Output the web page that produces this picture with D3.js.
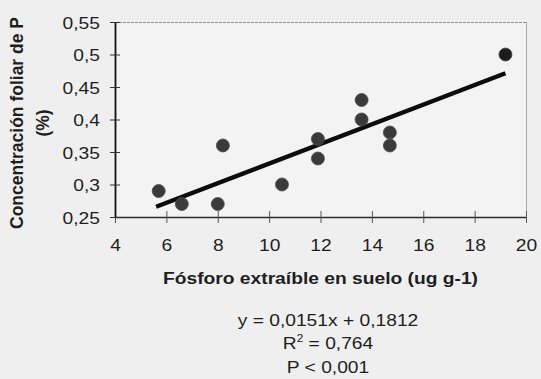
<!DOCTYPE html>
<html>
<head>
<meta charset="utf-8">
<script src="https://cdn.jsdelivr.net/npm/d3@7/dist/d3.min.js"></script>
<style>
  html, body { margin: 0; padding: 0; background: #efefef; }
  svg { display: block; }
  text { font-family: "Liberation Sans", Arial, sans-serif; fill: #1e1e1e; }
</style>
</head>
<body>
<svg id="chart" width="541" height="379"></svg>
<script>
// ---- data ----
const phosphorusSoil = [5.7, 6.6, 8.0, 8.2, 10.5, 11.9, 11.9, 13.6, 13.6, 14.7, 14.7, 19.2];
const foliarP        = [0.29, 0.27, 0.27, 0.36, 0.30, 0.37, 0.34, 0.43, 0.40, 0.38, 0.36, 0.50];
const xTicks = [4, 6, 8, 10, 12, 14, 16, 18, 20];
const yTicks = [0.25, 0.30, 0.35, 0.40, 0.45, 0.50, 0.55];
const yTickLabels = ["0,25", "0,3", "0,35", "0,4", "0,45", "0,5", "0,55"];
const trend = { slope: 0.0151, intercept: 0.1812 };
const xTitle = "Fósforo extraíble en suelo (ug g-1)";
const yTitle1 = "Concentración foliar de P";
const yTitle2 = "(%)";
const eqLines = ["y = 0,0151x + 0,1812", "R2 = 0,764", "P < 0,001"];

// ---- layout ----
const W = 541, H = 379;
const m = { left: 115, right: 526, top: 22, bottom: 217 };
const SX = 1.18; // horizontal stretch of the scanned text

const svg = d3.select("#chart");
svg.append("rect").attr("width", W).attr("height", H).attr("fill", "#efefef");

const x = d3.scaleLinear().domain([4, 20]).range([m.left, m.right]);
const y = d3.scaleLinear().domain([0.25, 0.55]).range([m.bottom, m.top]);

// plot background
svg.append("rect")
  .attr("x", m.left).attr("y", m.top)
  .attr("width", m.right - m.left).attr("height", m.bottom - m.top)
  .attr("fill", "#f3f3f3");

// top and right border (light gray)
svg.append("line").attr("x1", m.left).attr("x2", m.right).attr("y1", m.top + 0.5).attr("y2", m.top + 0.5)
  .attr("stroke", "#8e8e8e").attr("stroke-width", 1).attr("stroke-dasharray", "3,1");
svg.append("line").attr("x1", m.right + 0.5).attr("x2", m.right + 0.5).attr("y1", m.top).attr("y2", m.bottom)
  .attr("stroke", "#a8a8a8").attr("stroke-width", 1);

// x axis
const gx = svg.append("g").attr("transform", `translate(0,${m.bottom})`)
  .call(d3.axisBottom(x).tickValues(xTicks).tickSizeOuter(0).tickSizeInner(6).tickFormat(d => d));
gx.select(".domain").attr("stroke", "#2a2a2a").attr("stroke-width", 1.6);
gx.selectAll(".tick line").attr("y1", -6).attr("y2", 6).attr("stroke", "#555").attr("stroke-width", 1);
gx.selectAll(".tick text")
  .attr("y", 0).attr("dy", null)
  .attr("transform", `translate(0,34) scale(${SX},1)`)
  .attr("font-size", 16.3).attr("fill", "#1e1e1e")
  .style("font-family", '"Liberation Sans", Arial, sans-serif');

// y axis
const gy = svg.append("g").attr("transform", `translate(${m.left},0)`)
  .call(d3.axisLeft(y).tickValues(yTicks).tickSizeOuter(0).tickSizeInner(5)
    .tickFormat((d, i) => yTickLabels[i]));
gy.select(".domain").attr("stroke", "#111").attr("stroke-width", 1.8);
gy.selectAll(".tick line").attr("x1", 5).attr("x2", -5).attr("stroke", "#333").attr("stroke-width", 1);
gy.selectAll(".tick text")
  .attr("x", 0).attr("dy", null)
  .attr("transform", `translate(-15,6) scale(${SX},1)`)
  .attr("font-size", 16.3).attr("fill", "#1e1e1e")
  .style("font-family", '"Liberation Sans", Arial, sans-serif');

// trend line
const xMin = d3.min(phosphorusSoil), xMax = d3.max(phosphorusSoil);
const line = d3.line().x(d => x(d)).y(d => y(trend.slope * d + trend.intercept));
svg.append("path")
  .datum([xMin - 0.1, xMax])
  .attr("d", line)
  .attr("stroke", "#0c0c0c").attr("stroke-width", 4.5).attr("fill", "none");

// points
svg.append("g").selectAll("circle")
  .data(phosphorusSoil.map((v, i) => [v, foliarP[i]]))
  .join("circle")
  .attr("cx", d => x(d[0])).attr("cy", d => y(d[1]))
  .attr("r", 6.5)
  .attr("fill", (d, i) => i === phosphorusSoil.length - 1 ? "#1c1c1c" : "#3a3a3a")
  .attr("stroke", "#4a4a4a").attr("stroke-width", 0.8);

// x title
svg.append("text")
  .attr("transform", `translate(${(m.left + m.right) / 2},283.5) scale(${SX},1)`)
  .attr("text-anchor", "middle").attr("font-weight", "bold").attr("font-size", 16.3)
  .text(xTitle);

// y title (two lines)
svg.append("text")
  .attr("transform", `translate(23,123) rotate(-90)`)
  .attr("text-anchor", "middle").attr("font-weight", "bold").attr("font-size", 17.5)
  .text(yTitle1);
svg.append("text")
  .attr("transform", `translate(49,123) rotate(-90)`)
  .attr("text-anchor", "middle").attr("font-weight", "bold").attr("font-size", 17.5)
  .text(yTitle2);

// equation block
const cx = 328;
svg.append("text")
  .attr("transform", `translate(${cx},326) scale(${SX},1)`)
  .attr("text-anchor", "middle").attr("font-size", 16.3)
  .text(eqLines[0]);
const r2 = svg.append("text")
  .attr("transform", `translate(${cx},349) scale(${SX},1)`)
  .attr("text-anchor", "middle").attr("font-size", 16.3);
r2.append("tspan").text(eqLines[1].slice(0, 1));
r2.append("tspan").attr("font-size", 10).attr("dy", -7).text(eqLines[1].slice(1, 2));
r2.append("tspan").attr("dy", 7).text(eqLines[1].slice(2));
svg.append("text")
  .attr("transform", `translate(${cx},373) scale(${SX},1)`)
  .attr("text-anchor", "middle").attr("font-size", 16.3)
  .text(eqLines[2]);
</script>
</body>
</html>
